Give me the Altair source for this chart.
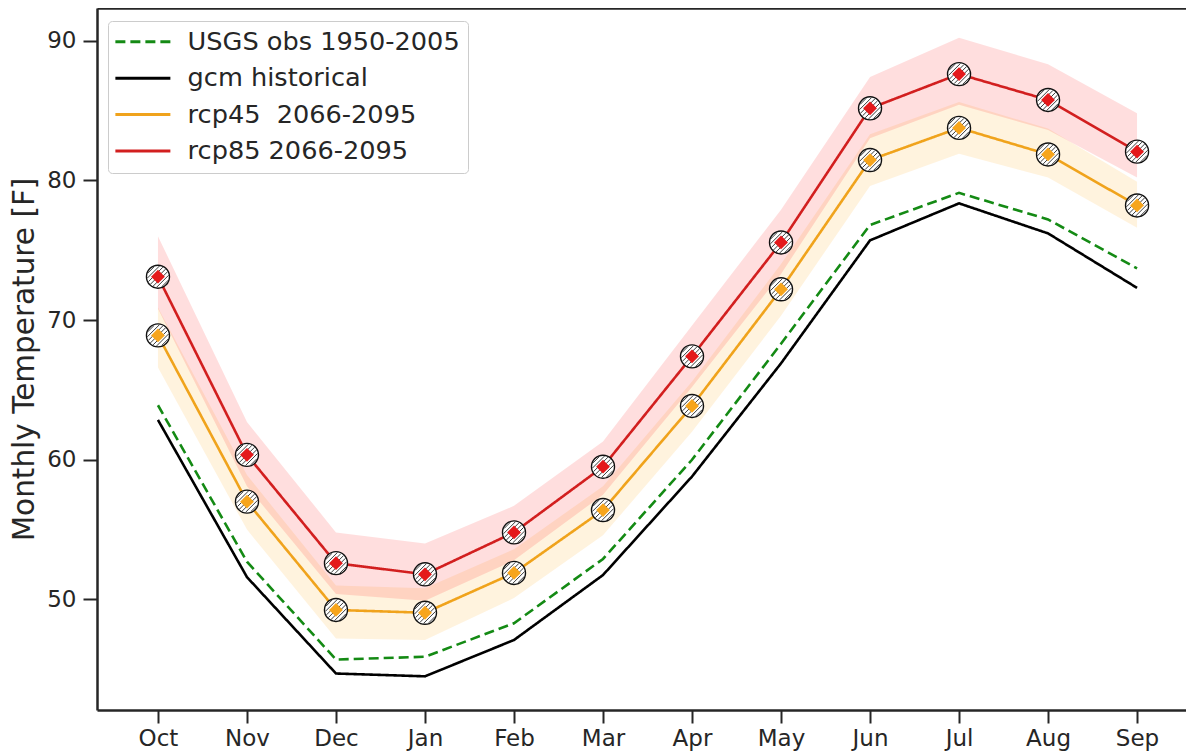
import json
import math
import altair as alt
import pandas as pd

# ---------------- data ----------------
months = ["Oct", "Nov", "Dec", "Jan", "Feb", "Mar", "Apr", "May", "Jun", "Jul", "Aug", "Sep"]
series_names = ["USGS obs 1950-2005", "gcm historical", "rcp45\u00a0 2066-2095", "rcp85 2066-2095"]

obs = [63.9, 52.7, 45.7, 45.9, 48.3, 52.9, 60.0, 68.3, 76.8, 79.1, 77.2, 73.7]
hist = [62.85, 51.6, 44.7, 44.5, 47.1, 51.75, 58.8, 66.9, 75.7, 78.35, 76.2, 72.3]
rcp45 = [68.9, 57.0, 49.25, 49.05, 51.9, 56.4, 63.85, 72.2, 81.45, 83.75, 81.85, 78.2]
rcp85 = [73.1, 60.35, 52.6, 51.8, 54.8, 59.5, 67.4, 75.55, 85.15, 87.6, 85.75, 82.05]

rcp45_lo = [66.6, 55.0, 47.2, 47.1, 50.1, 54.6, 62.0, 70.3, 79.6, 81.9, 80.2, 76.6]
rcp45_hi = [70.9, 58.9, 51.0, 50.8, 53.6, 58.1, 65.6, 74.0, 83.3, 85.6, 83.7, 79.9]
rcp85_lo = [70.8, 58.1, 50.4, 49.9, 52.8, 57.5, 65.2, 73.3, 83.0, 85.4, 83.6, 80.2]
rcp85_hi = [76.0, 62.7, 54.8, 54.0, 56.7, 61.3, 69.6, 77.9, 87.4, 90.2, 88.3, 84.8]

y_ticks = [50, 60, 70, 80, 90]

# ---------------- styles ----------------
line_colors = ["#148a14", "#000000", "#f0a31c", "#d21f1f"]
diamond_colors = {"rcp45\u00a0 2066-2095": "#f7a51c", "rcp85 2066-2095": "#e4191b"}
band_colors = {"rcp45\u00a0 2066-2095": "#ffa500", "rcp85 2066-2095": "#ff0000"}
dashes = [[10, 5], [1, 0], [1, 0], [1, 0]]
FONT = "DejaVu Sans"
INK = "#262626"

# ---------------- tables ----------------
all_series = [obs, hist, rcp45, rcp85]
rows = []
for name, vals in zip(series_names, all_series):
    for i, v in enumerate(vals):
        rows.append({"i": i, "month": months[i], "series": name, "value": v})
lines_df = pd.DataFrame(rows)

band_rows = []
for name, lo, hi in [(series_names[2], rcp45_lo, rcp45_hi), (series_names[3], rcp85_lo, rcp85_hi)]:
    for i in range(len(months)):
        band_rows.append({"i": i, "series": name, "lo": lo[i], "hi": hi[i], "fill": band_colors[name]})
bands_df = pd.DataFrame(band_rows)

marker_rows = []
for name, vals in [(series_names[2], rcp45), (series_names[3], rcp85)]:
    for i, v in enumerate(vals):
        marker_rows.append({"i": i, "series": name, "value": v, "dcolor": diamond_colors[name]})
markers_df = pd.DataFrame(marker_rows)

# hatch symbol: diagonal chords inside a unit circle
parts = []
R = 0.93
for c in [-1.2, -0.8, -0.4, 0.0, 0.4, 0.8, 1.2]:
    d = abs(c) / math.sqrt(2)
    if d >= R:
        continue
    h = math.sqrt(R * R - d * d) / math.sqrt(2)
    x1, y1 = c / 2 - h, c / 2 + h
    x2, y2 = c / 2 + h, c / 2 - h
    parts.append(f"M{x1:.3f},{y1:.3f}L{x2:.3f},{y2:.3f}")
hatch_path = "".join(parts)

# legend symbol: a long horizontal stroke drawn with a small symbol size
legend_line_path = "M-1.22,0L3.78,0"

# ---------------- scales / axes ----------------
x_scale = alt.Scale(domain=[-0.685, 11.55], nice=False, zero=False)
y_scale = alt.Scale(domain=[42.09, 92.33], nice=False, zero=False)
label_expr = json.dumps(months) + "[datum.value]"

x_bottom = alt.X(
    "i:Q", scale=x_scale,
    axis=alt.Axis(values=list(range(len(months))), labelExpr=label_expr, title=None, grid=False,
                  orient="bottom", tickSize=13, labelPadding=4),
)
x_top = alt.X(
    "i:Q", scale=x_scale,
    axis=alt.Axis(orient="top", labels=False, ticks=False, grid=False, title=None, domain=True),
)
x_none = alt.X("i:Q", scale=x_scale, axis=None)

y_axis = alt.Axis(values=y_ticks, title="Monthly Temperature [F]", grid=False, tickSize=14,
                  labelPadding=7, titleX=-64, titleBaseline="alphabetic", titleFontSize=29.5,
                  titleFontWeight="normal")
y_main = alt.Y("value:Q", scale=y_scale, axis=y_axis)

legend = alt.Legend(
    title=None, orient="none", legendX=11, legendY=13, symbolType=legend_line_path, symbolSize=484,
    symbolStrokeWidth=3, labelFontSize=25.6, labelFont=FONT, labelColor=INK, labelLimit=500,
    padding=8, rowPadding=9.4, labelOffset=46, strokeColor="#cccccc", fillColor="white",
    cornerRadius=4,
)

bands = alt.Chart(bands_df).mark_area(opacity=0.13, interpolate="linear").encode(
    x=x_top,
    y=alt.Y("lo:Q", scale=y_scale, axis=y_axis),
    y2="hi:Q",
    fill=alt.Fill("fill:N", scale=None),
    detail="series:N",
)

lines = alt.Chart(lines_df).mark_line(strokeWidth=2.6).encode(
    x=x_bottom,
    y=y_main,
    color=alt.Color("series:N", scale=alt.Scale(domain=series_names, range=line_colors), legend=legend),
    strokeDash=alt.StrokeDash("series:N", scale=alt.Scale(domain=series_names, range=dashes), legend=legend),
)

circles = alt.Chart(markers_df).mark_point(
    shape="circle", filled=True, fill="white", stroke="#111111", strokeWidth=1.4, size=530, opacity=1
).encode(x=x_none, y=y_main, detail="series:N")

hatch = alt.Chart(markers_df).mark_point(
    shape=hatch_path, filled=False, stroke="#222222", strokeWidth=0.9, size=530, opacity=1
).encode(x=x_none, y=y_main, detail="series:N")

diamonds = alt.Chart(markers_df).mark_point(
    shape="diamond", filled=True, size=190, opacity=1, strokeWidth=0
).encode(x=x_none, y=y_main, fill=alt.Fill("dcolor:N", scale=None))

chart = alt.layer(bands, lines, circles, hatch, diamonds).resolve_axis(x="independent").properties(
    width=1089,
    height=702,
    autosize=alt.AutoSizeParams(type="none"),
    padding={"left": 89, "top": 0, "right": 0, "bottom": 43},
).configure(
    font=FONT,
).configure_view(
    stroke=None,
).configure_axis(
    labelFont=FONT, titleFont=FONT, labelFontSize=23, labelColor=INK, titleColor=INK,
    domainColor=INK, domainWidth=2.5, tickColor=INK, tickWidth=2,
)

chart.save("out.html", embed_options={"renderer": "svg", "actions": False})
